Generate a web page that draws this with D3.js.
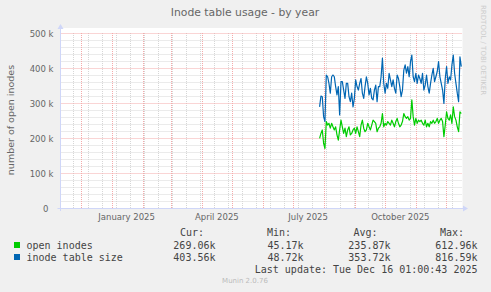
<!DOCTYPE html>
<html>
<head>
<meta charset="utf-8">
<script src="https://cdn.jsdelivr.net/npm/d3@7/dist/d3.min.js"></script>
<style>
  body { margin: 0; background: #f0f0f0; }
  svg { display: block; }
</style>
</head>
<body>
<svg id="chart" width="491" height="292"></svg>
<script>
// values in thousands, one sample every 32 hours from seriesStart
const openInodes = [
  199, 213, 223, 185, 170, 247, 237, 242, 228, 242,
  232, 223, 232, 209, 194, 223, 251, 232, 213, 228,
  204, 223, 232, 209, 213, 223, 228, 213, 232, 218,
  204, 237, 251, 228, 218, 223, 242, 232, 223, 237,
  251, 247, 242, 218, 228, 232, 242, 270, 232, 242,
  237, 247, 242, 237, 251, 242, 232, 247, 256, 242,
  232, 237, 247, 270, 261, 256, 261, 251, 256, 309,
  261, 237, 256, 242, 251, 247, 251, 242, 237, 251,
  232, 242, 232, 247, 242, 251, 242, 247, 256, 242,
  251, 256, 247, 204, 237, 275, 256, 251, 266, 242,
  289, 261, 251, 232, 218, 275, 270
]
const tableSize = [
  289, 320, 318, 261, 247, 380, 375, 356, 328, 375,
  380, 375, 347, 323, 347, 266, 361, 361, 337, 313,
  356, 356, 318, 304, 328, 289, 313, 366, 347, 337,
  356, 370, 328, 313, 347, 375, 356, 323, 342, 313,
  309, 337, 351, 304, 347, 347, 375, 428, 356, 328,
  356, 342, 385, 366, 347, 366, 342, 328, 380, 370,
  347, 318, 337, 394, 409, 385, 404, 375, 418, 437,
  375, 361, 385, 356, 380, 370, 356, 385, 337, 351,
  380, 347, 328, 356, 380, 399, 361, 375, 390, 418,
  375, 356, 337, 299, 370, 404, 356, 375, 366, 409,
  437, 385, 356, 328, 304, 432, 404
]
const seriesStart = new Date(2025, 6, 27, 12)
const stepHours = 32

const seriesNames = ['open inodes', 'inode table size']
const seriesColors = ['#00cc00', '#0066b3']
const curValues = ['269.06k', '403.56k']
const minValues = ['45.17k', '48.72k']
const avgValues = ['235.87k', '353.72k']
const maxValues = ['612.96k', '816.59k']

const yTicks = [0, 100, 200, 300, 400, 500]
const yTickLabels = ['0', '100 k', '200 k', '300 k', '400 k', '500 k']
const xLabels = ['January 2025', 'April 2025', 'July 2025', 'October 2025']
const xLabelDates = [new Date(2025, 0, 16), new Date(2025, 3, 16), new Date(2025, 6, 16), new Date(2025, 9, 16)]

const svg = d3.select('#chart')
const plotLeft = 60.5
const plotRight = 461.5
const plotTop = 33
const plotBottom = 208

const x = d3.scaleTime()
  .domain([new Date(2024, 10, 11, 1), new Date(2025, 11, 16, 1)])
  .range([plotLeft, plotRight])
const y = d3.scaleLinear().domain([0, 500]).range([plotBottom, plotTop])

svg.append('rect').attr('width', 491).attr('height', 292).attr('fill', '#f0f0f0')
svg.append('rect')
  .attr('x', plotLeft).attr('y', 28)
  .attr('width', plotRight - plotLeft + 1).attr('height', plotBottom - 28)
  .attr('fill', '#ffffff')

const minorColor = '#d6d6d6'
const majorColor = '#f4aaaa'

// minor grid
const minorY = d3.range(0, 501, 20).filter(v => v % 100 !== 0)
svg.append('g').selectAll('line').data(minorY).enter().append('line')
  .attr('x1', plotLeft).attr('x2', plotRight)
  .attr('y1', d => Math.round(y(d)) + 0.5).attr('y2', d => Math.round(y(d)) + 0.5)
  .attr('stroke', minorColor).attr('stroke-dasharray', '1,1')

const sundays = d3.timeSunday.range(x.domain()[0], x.domain()[1]).filter((d, i) => i % 2 === 1)
svg.append('g').selectAll('line').data(sundays).enter().append('line')
  .attr('x1', d => Math.round(x(d)) + 0.5).attr('x2', d => Math.round(x(d)) + 0.5)
  .attr('y1', plotTop).attr('y2', plotBottom)
  .attr('stroke', minorColor).attr('stroke-dasharray', '1,1')

// major grid
svg.append('g').selectAll('line').data(yTicks.slice(1)).enter().append('line')
  .attr('x1', plotLeft).attr('x2', plotRight)
  .attr('y1', d => Math.round(y(d)) + 0.5).attr('y2', d => Math.round(y(d)) + 0.5)
  .attr('stroke', majorColor).attr('stroke-dasharray', '1,1')

const months = d3.timeMonth.range(x.domain()[0], x.domain()[1])
svg.append('g').selectAll('line').data(months).enter().append('line')
  .attr('x1', d => Math.round(x(d)) + 0.5).attr('x2', d => Math.round(x(d)) + 0.5)
  .attr('y1', plotTop).attr('y2', plotBottom)
  .attr('stroke', majorColor).attr('stroke-dasharray', '1,1')

// axes
const axisColor = '#cfd6f8'
svg.append('line').attr('x1', plotLeft).attr('x2', plotLeft).attr('y1', plotBottom + 3).attr('y2', 28)
  .attr('stroke', axisColor)
svg.append('line').attr('x1', plotLeft - 3).attr('x2', 464).attr('y1', plotBottom + 0.5).attr('y2', plotBottom + 0.5)
  .attr('stroke', axisColor)
svg.append('path').attr('d', 'M' + (plotLeft - 3) + ',29 L' + (plotLeft + 3) + ',29 L' + plotLeft + ',24 Z').attr('fill', axisColor)
svg.append('path').attr('d', 'M463,' + (plotBottom - 2.5) + ' L463,' + (plotBottom + 3.5) + ' L468,' + (plotBottom + 0.5) + ' Z').attr('fill', axisColor)

// lines
const dates = openInodes.map((d, i) => d3.timeHour.offset(seriesStart, i * stepHours))
const line = d3.line().x((d, i) => x(dates[i])).y(d => y(d))
;[openInodes, tableSize].forEach((series, k) => {
  svg.append('path').datum(series)
    .attr('d', line)
    .attr('fill', 'none')
    .attr('stroke', seriesColors[k])
    .attr('stroke-width', 1.2)
    .attr('stroke-linejoin', 'round')
})

// tick labels
const labelFont = 'DejaVu Sans, sans-serif'
const textColor = '#666'
svg.append('g').selectAll('text').data(yTicks).enter().append('text')
  .attr('x', (d, i) => i === 0 ? 48.5 : 53.5)
  .attr('y', d => y(d) + 3.5)
  .attr('text-anchor', 'end')
  .attr('font-family', labelFont).attr('font-size', '8.5px').attr('fill', textColor)
  .text((d, i) => yTickLabels[i])

svg.append('g').selectAll('text').data(xLabels).enter().append('text')
  .attr('x', (d, i) => x(xLabelDates[i]))
  .attr('y', 220)
  .attr('text-anchor', 'middle')
  .attr('font-family', labelFont).attr('font-size', '8.5px').attr('fill', textColor)
  .text(d => d)

svg.append('text')
  .attr('x', 245).attr('y', 16)
  .attr('text-anchor', 'middle')
  .attr('font-family', labelFont).attr('font-size', '10.8px').attr('fill', textColor)
  .text('Inode table usage - by year')

svg.append('text')
  .attr('transform', 'translate(13.5,120) rotate(-90)')
  .attr('text-anchor', 'middle')
  .attr('font-family', labelFont).attr('font-size', '9.5px').attr('fill', textColor)
  .text('number of open inodes')

svg.append('text')
  .attr('transform', 'translate(481,5) rotate(90)')
  .attr('font-family', labelFont).attr('font-size', '7px').attr('fill', '#cccccc')
  .text('RRDTOOL / TOBI OETIKER')

// legend
const mono = 'DejaVu Sans Mono, monospace'
const headers = ['Cur:', 'Min:', 'Avg:', 'Max:']
const headerX = [180, 267, 353.5, 440]
const colEnd = [215.5, 303.5, 390.5, 477.5]
const columns = [curValues, minValues, avgValues, maxValues]
const legend = svg.append('g').attr('font-family', mono).attr('font-size', '10px').attr('fill', '#444')

headers.forEach((h, i) => {
  legend.append('text').attr('x', headerX[i]).attr('y', 236).text(h)
})
seriesNames.forEach((name, k) => {
  const yy = 248.5 + k * 12
  legend.append('rect').attr('x', 14).attr('y', yy - 6.5).attr('width', 6).attr('height', 6)
    .attr('fill', seriesColors[k])
  legend.append('text').attr('x', 26.5).attr('y', yy).text(name)
  columns.forEach((col, i) => {
    legend.append('text').attr('x', colEnd[i]).attr('y', yy).attr('text-anchor', 'end').text(col[k])
  })
})
legend.append('text').attr('x', 477.5).attr('y', 272.5).attr('text-anchor', 'end')
  .text('Last update: Tue Dec 16 01:00:43 2025')

svg.append('text')
  .attr('x', 245).attr('y', 283)
  .attr('text-anchor', 'middle')
  .attr('font-family', labelFont).attr('font-size', '7px').attr('fill', '#bbb')
  .text('Munin 2.0.76')
</script>
</body>
</html>
